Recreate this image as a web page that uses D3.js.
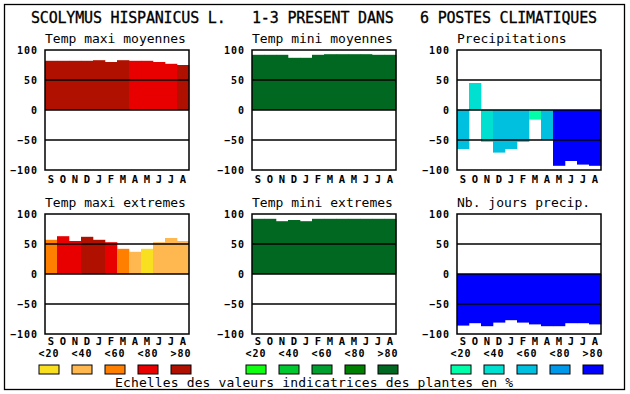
<!DOCTYPE html>
<html><head><meta charset="utf-8">
<script src="https://cdn.jsdelivr.net/npm/d3@7"></script>
<style>html,body{margin:0;padding:0;background:#fff;}svg{display:block;}</style>
</head><body>
<svg id="c" width="630" height="394"></svg>
<script>
// ---- data ----
const title = "SCOLYMUS HISPANICUS L.   1-3 PRESENT DANS   6 POSTES CLIMATIQUES";
const months = ["S","O","N","D","J","F","M","A","M","J","J","A"];
const yTicks = [100, 50, 0, -50, -100];
const classLabels = ["<20", "<40", "<60", "<80", ">80"];
const footer = "Echelles des valeurs indicatrices des plantes en %";

const panelTitles = ["Temp maxi moyennes", "Temp mini moyennes", "Precipitations",
                     "Temp maxi extremes", "Temp mini extremes", "Nb. jours precip."];

const tmaxMoy      = [82, 82, 82, 82, 83, 80, 83, 82, 82, 80, 77, 75];
const tmaxMoyClass = [4, 4, 4, 4, 4, 4, 4, 3, 3, 3, 3, 4];
const tminMoy      = [92, 92, 92, 87, 87, 92, 93, 93, 93, 93, 92, 92];
const tminMoyClass = [4, 4, 4, 4, 4, 4, 4, 4, 4, 4, 4, 4];
const precip       = [-65, 45, -53, -71, -65, -53, -16, -50, -93, -85, -91, -93];
const precipClass  = [2, 1, 1, 2, 2, 2, 0, 2, 4, 4, 4, 4];
const tmaxExt      = [57, 63, 55, 62, 57, 53, 42, 37, 42, 53, 60, 55];
const tmaxExtClass = [2, 3, 3, 4, 4, 3, 2, 1, 0, 1, 1, 1];
const tminExt      = [92, 92, 88, 90, 88, 92, 92, 92, 92, 92, 92, 92];
const tminExtClass = [4, 4, 4, 4, 4, 4, 4, 4, 4, 4, 4, 4];
const nbJours      = [-86, -82, -87, -81, -77, -81, -84, -87, -87, -82, -82, -84];
const nbJoursClass = [4, 4, 4, 4, 4, 4, 4, 4, 4, 4, 4, 4];

const redPalette   = ["#f8e020", "#ffb850", "#ff8000", "#e80000", "#b01000"];
const greenPalette = ["#10ff10", "#00c830", "#00a030", "#008000", "#006820"];
const bluePalette  = ["#00ffa8", "#00e0d0", "#00c0e0", "#0098e8", "#0000ff"];

// ---- layout ----
const svg = d3.select("#c");
const mono = "'DejaVu Sans Mono', 'Liberation Mono', monospace";
const colX = [45, 252, 457];
const rowY = [50, 214];
const pw = 144, ph = 120;
const monthBaseline = [183, 345];

svg.append("rect").attr("x", 4.5).attr("y", 4.5).attr("width", 620).attr("height", 385)
  .attr("fill", "#fff").attr("stroke", "#000").attr("stroke-width", 1.3);

svg.append("text").attr("x", 31).attr("y", 23)
  .attr("font-family", mono).attr("font-size", 15)
  .attr("textLength", 566).attr("lengthAdjust", "spacing")
  .style("white-space", "pre").attr("fill", "#000").attr("stroke", "#000").attr("stroke-width", 0.3)
  .text(title);

const panels = [
  {vals: tmaxMoy, cls: tmaxMoyClass, pal: redPalette, col: 0, row: 0},
  {vals: tminMoy, cls: tminMoyClass, pal: greenPalette, col: 1, row: 0},
  {vals: precip,  cls: precipClass,  pal: bluePalette, col: 2, row: 0},
  {vals: tmaxExt, cls: tmaxExtClass, pal: redPalette, col: 0, row: 1},
  {vals: tminExt, cls: tminExtClass, pal: greenPalette, col: 1, row: 1},
  {vals: nbJours, cls: nbJoursClass, pal: bluePalette, col: 2, row: 1}
];

const x = d3.scaleBand().domain(d3.range(months.length)).range([0, pw]).padding(0);
const y = d3.scaleLinear().domain([-100, 100]).range([ph, 0]);

panels.forEach((p, i) => {
  const g = svg.append("g").attr("transform", `translate(${colX[p.col]},${rowY[p.row]})`);
  g.append("text").attr("x", 0).attr("y", -7).attr("font-family", mono)
    .attr("font-size", 13).attr("fill", "#000").text(panelTitles[i]);
  g.append("rect").attr("width", pw).attr("height", ph).attr("fill", "#fff");
  g.selectAll("rect.bar").data(p.vals).enter().append("rect").attr("class", "bar")
    .attr("x", (d, j) => x(j)).attr("width", x.bandwidth() + 0.3)
    .attr("y", d => y(Math.max(0, d))).attr("height", d => Math.abs(y(d) - y(0)))
    .attr("fill", (d, j) => p.pal[p.cls[j]]);
  [50, 0, -50].forEach(v => {
    g.append("line").attr("x1", 0).attr("x2", pw).attr("y1", y(v)).attr("y2", y(v))
      .attr("stroke", "#000").attr("stroke-width", 1.5);
  });
  g.append("rect").attr("width", pw).attr("height", ph).attr("fill", "none")
    .attr("stroke", "#000").attr("stroke-width", 1.5);
  // y axis
  const ya = g.append("g").call(d3.axisLeft(y).tickValues(yTicks).tickSize(0).tickPadding(7));
  ya.select(".domain").remove();
  ya.selectAll("text").attr("font-family", mono).attr("font-size", 10)
    .attr("font-weight", "bold").attr("letter-spacing", 1).attr("fill", "#000");
  // month labels
  const xa = g.append("g").attr("transform", `translate(0,${ph})`)
    .call(d3.axisBottom(x).tickFormat(j => months[j]).tickSize(0));
  xa.select(".domain").remove();
  xa.selectAll("text").attr("dy", null).attr("y", monthBaseline[p.row] - rowY[p.row] - ph)
    .attr("font-family", mono).attr("font-size", 10.5).attr("font-weight", "bold").attr("fill", "#000");
});

// legends
const legendPalettes = [redPalette, greenPalette, bluePalette];
const lx = d3.scalePoint().domain(d3.range(5)).range([4, 136]);
legendPalettes.forEach((pal, k) => {
  const g = svg.append("g").attr("transform", `translate(${colX[k]},0)`);
  g.selectAll("text").data(classLabels).enter().append("text")
    .attr("x", (d, j) => lx(j)).attr("y", 357).attr("text-anchor", "middle")
    .attr("font-family", mono).attr("font-size", 10).attr("font-weight", "bold")
    .attr("letter-spacing", 1).attr("fill", "#000").text(d => d);
  g.selectAll("rect").data(pal).enter().append("rect")
    .attr("x", (d, j) => lx(j) - 10).attr("y", 365).attr("width", 20).attr("height", 9)
    .attr("fill", d => d).attr("stroke", "#000").attr("stroke-width", 1);
});

svg.append("text").attr("x", 115).attr("y", 387).attr("font-family", mono)
  .attr("font-size", 13).attr("textLength", 398).attr("lengthAdjust", "spacing")
  .attr("fill", "#000").text(footer);
</script>
</body></html>
